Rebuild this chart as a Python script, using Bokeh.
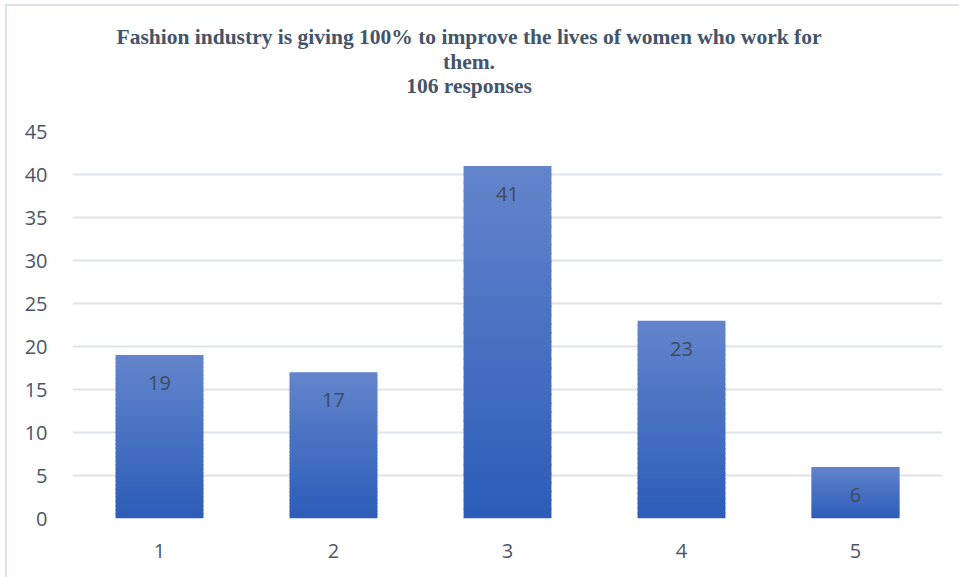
from bokeh.plotting import figure
from bokeh.models import Range1d, FixedTicker, ColumnDataSource, Div
from bokeh.layouts import column
from bokeh.core.properties import value
from bokeh.embed import file_html
from bokeh.resources import INLINE

# ---- data ----
categories = [1, 2, 3, 4, 5]
tick_labels = ["1", "2", "3", "4", "5"]
responses = [19, 17, 41, 23, 6]
title_lines = [
    "Fashion industry is giving 100% to improve the lives of women who work for",
    "them.",
    "106 responses",
]

# ---- style ----
TOP_COLOR = (99, 132, 204)
BOT_COLOR = (44, 93, 184)
N_STRIPS = 40
BAR_W = 0.505
GRID = "#dfe3ea"
TXT = "#4a5668"

OX, OY = 7, 6            # content origin inside the window (margin + border)
TITLE_H = 110            # window y 6 .. 116
FRAME_LEFT, FRAME_RIGHT, FRAME_TOP, FRAME_BOTTOM = 72, 942, 131, 518  # window px
X0, X1, Y0, Y1 = 0.5, 5.5, 0, 45

W = 959 - OX
FIG_TOP = OY + TITLE_H
H = 577 - FIG_TOP

title = Div(text="<br>".join(title_lines), width=2 * (469 - OX), height=TITLE_H,
            margin=0,
            styles={"font-family": "'Liberation Serif', serif", "font-weight": "bold",
                    "font-size": "21.5px", "line-height": "24.5px", "color": "#44546a",
                    "text-align": "center", "padding-top": "19px",
                    "box-sizing": "border-box", "background": "white"})

p = figure(width=W, height=H, output_backend="svg", toolbar_location=None,
           x_range=Range1d(X0, X1), y_range=Range1d(Y0, Y1),
           min_border_left=FRAME_LEFT - OX, min_border_right=959 - FRAME_RIGHT,
           min_border_top=FRAME_TOP - FIG_TOP, min_border_bottom=577 - FRAME_BOTTOM)
p.margin = 0
p.outline_line_color = None
p.background_fill_color = "white"
p.border_fill_color = "white"

# gradient bars built as strips derived from each value
xs, bots, tops, cols = [], [], [], []
for c, v in zip(categories, responses):
    for i in range(N_STRIPS):
        f0 = i / N_STRIPS
        f1 = (i + 1) / N_STRIPS
        t = (f0 + f1) / 2  # 0 bottom -> 1 top
        r = round(BOT_COLOR[0] + (TOP_COLOR[0] - BOT_COLOR[0]) * t)
        g = round(BOT_COLOR[1] + (TOP_COLOR[1] - BOT_COLOR[1]) * t)
        b = round(BOT_COLOR[2] + (TOP_COLOR[2] - BOT_COLOR[2]) * t)
        xs.append(c)
        bots.append(v * f0)
        tops.append(min(v, v * f1 + 0.15))
        cols.append("#%02x%02x%02x" % (r, g, b))
p.vbar(x=xs, bottom=bots, top=tops, width=BAR_W, fill_color=cols,
       line_color=None)

# value labels
src = ColumnDataSource(dict(x=categories, y=responses, t=[str(v) for v in responses]))
p.text(x="x", y="y", text="t", source=src, y_offset=28,
       text_align="center", text_baseline="middle",
       text_font=value("Open Sans"), text_font_size="20px", text_color="#3f4a5a")

# axes
p.xaxis.ticker = FixedTicker(ticks=categories)
p.xaxis.major_label_overrides = {c: l for c, l in zip(categories, tick_labels)}
p.yaxis.ticker = FixedTicker(ticks=list(range(0, 46, 5)))
for ax in (p.xaxis[0], p.yaxis[0]):
    ax.axis_line_color = None
    ax.major_tick_line_color = None
    ax.minor_tick_line_color = None
    ax.major_label_text_font = "Open Sans"
    ax.major_label_text_font_size = "20px"
    ax.major_label_text_color = TXT
p.yaxis.major_label_standoff = 19
p.xaxis.major_label_standoff = 19

p.xgrid.grid_line_color = None
p.ygrid.grid_line_color = GRID
p.ygrid.grid_line_width = 2

layout = column(title, p, spacing=0)
layout.margin = 0
layout.styles = {"margin-left": "5px", "margin-top": "4px",
                 "border-left": "2px solid #dde3ec", "border-top": "2px solid #dde3ec",
                 "background": "white"}

open("out.html", "w").write(file_html(layout, INLINE))
